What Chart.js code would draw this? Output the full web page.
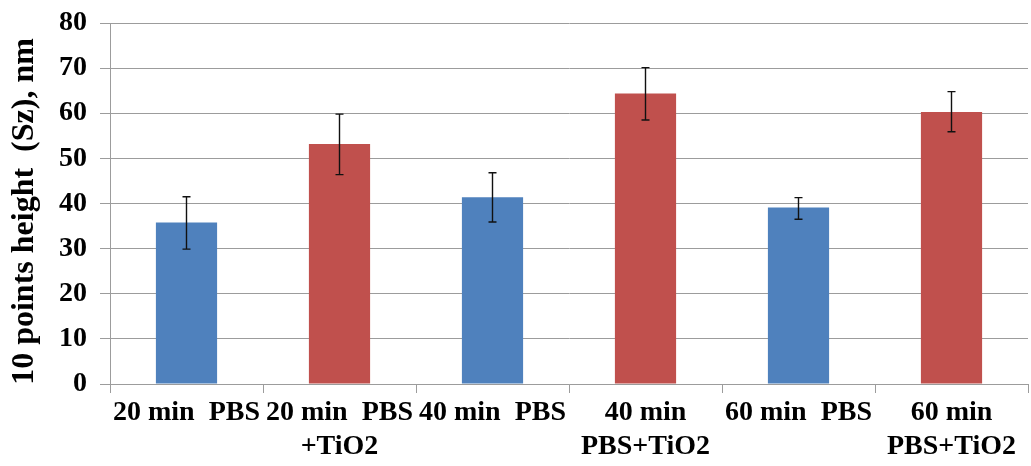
<!DOCTYPE html>
<html>
<head>
<meta charset="utf-8">
<script src="https://cdn.jsdelivr.net/npm/chart.js@4.4.0/dist/chart.umd.min.js"></script>
<style>
  html, body { margin: 0; padding: 0; background: #fff; }
  #chart { display: block; }
</style>
</head>
<body>
<canvas id="chart" width="1031" height="466"></canvas>
<script>
// Data
const categories = [
    ['20 min  PBS'],
    ['20 min  PBS', '+TiO2'],
    ['40 min  PBS'],
    ['40 min', 'PBS+TiO2'],
    ['60 min  PBS'],
    ['60 min', 'PBS+TiO2']
];
const heights = [35.8, 53.2, 41.4, 64.4, 39.1, 60.3];
const errLow = [29.9, 46.4, 35.9, 58.5, 36.5, 55.9];
const errHigh = [41.5, 59.8, 46.8, 70.1, 41.3, 64.8];
const yTicks = [0, 10, 20, 30, 40, 50, 60, 70, 80];

const FONT = "'Liberation Serif', 'Times New Roman', serif";
const GRID = '#9c9c9c';

// Draw the error bars from the y scale
const errorBars = {
    id: 'errorBars',
    afterDatasetsDraw(chart) {
        const ctx = chart.ctx;
        const y = chart.scales.y;
        const meta = chart.getDatasetMeta(0);
        ctx.save();
        ctx.strokeStyle = '#111';
        ctx.lineWidth = 1.4;
        meta.data.forEach((bar, i) => {
            const top = y.getPixelForValue(errHigh[i]);
            const bottom = y.getPixelForValue(errLow[i]);
            ctx.beginPath();
            ctx.moveTo(bar.x, top);
            ctx.lineTo(bar.x, bottom);
            ctx.moveTo(bar.x - 4, top);
            ctx.lineTo(bar.x + 4, top);
            ctx.moveTo(bar.x - 4, bottom);
            ctx.lineTo(bar.x + 4, bottom);
            ctx.stroke();
        });
        ctx.restore();
    }
};

new Chart(document.getElementById('chart').getContext('2d'), {
    type: 'bar',
    data: {
        labels: categories,
        datasets: [{
            data: heights,
            backgroundColor: ctx => (ctx.dataIndex % 2 === 0 ? '#4F81BD' : '#C0504D'),
            categoryPercentage: 1,
            barPercentage: 0.4
        }]
    },
    options: {
        responsive: false,
        animation: false,
        devicePixelRatio: 1,
        layout: { padding: { left: 6, top: 23, right: 3, bottom: 0 } },
        plugins: {
            legend: { display: false },
            tooltip: { enabled: false }
        },
        scales: {
            x: {
                afterFit: scale => {
                    scale.height = 466 - 384;
                    scale.paddingLeft = 0;
                    scale.paddingRight = 0;
                },
                border: { color: GRID, width: 1 },
                grid: {
                    offset: true,
                    drawOnChartArea: false,
                    drawTicks: true,
                    tickLength: 9,
                    color: ctx => (ctx.index === categories.length ? 'rgba(0,0,0,0)' : GRID)
                },
                ticks: {
                    color: '#000',
                    font: { family: FONT, size: 28, weight: 'bold', lineHeight: 1.2 },
                    maxRotation: 0,
                    autoSkip: false,
                    padding: 3
                }
            },
            y: {
                min: 0,
                max: 80,
                afterFit: scale => {
                    scale.width = 110 - 6;
                    scale.paddingTop = 0;
                    scale.paddingBottom = 0;
                },
                afterBuildTicks: scale => { scale.ticks = yTicks.map(v => ({ value: v })); },
                border: { color: GRID, width: 1 },
                grid: { color: GRID, lineWidth: 1, tickLength: 10 },
                ticks: {
                    color: '#000',
                    font: { family: FONT, size: 28, weight: 'bold' },
                    padding: 13
                },
                title: {
                    display: true,
                    text: '10 points height  (Sz), nm\u00a0\u00a0',
                    color: '#000',
                    font: { family: FONT, size: 32, weight: 'bold' },
                    padding: { top: 0, bottom: 0 }
                }
            }
        }
    },
    plugins: [errorBars]
});
</script>
</body>
</html>
